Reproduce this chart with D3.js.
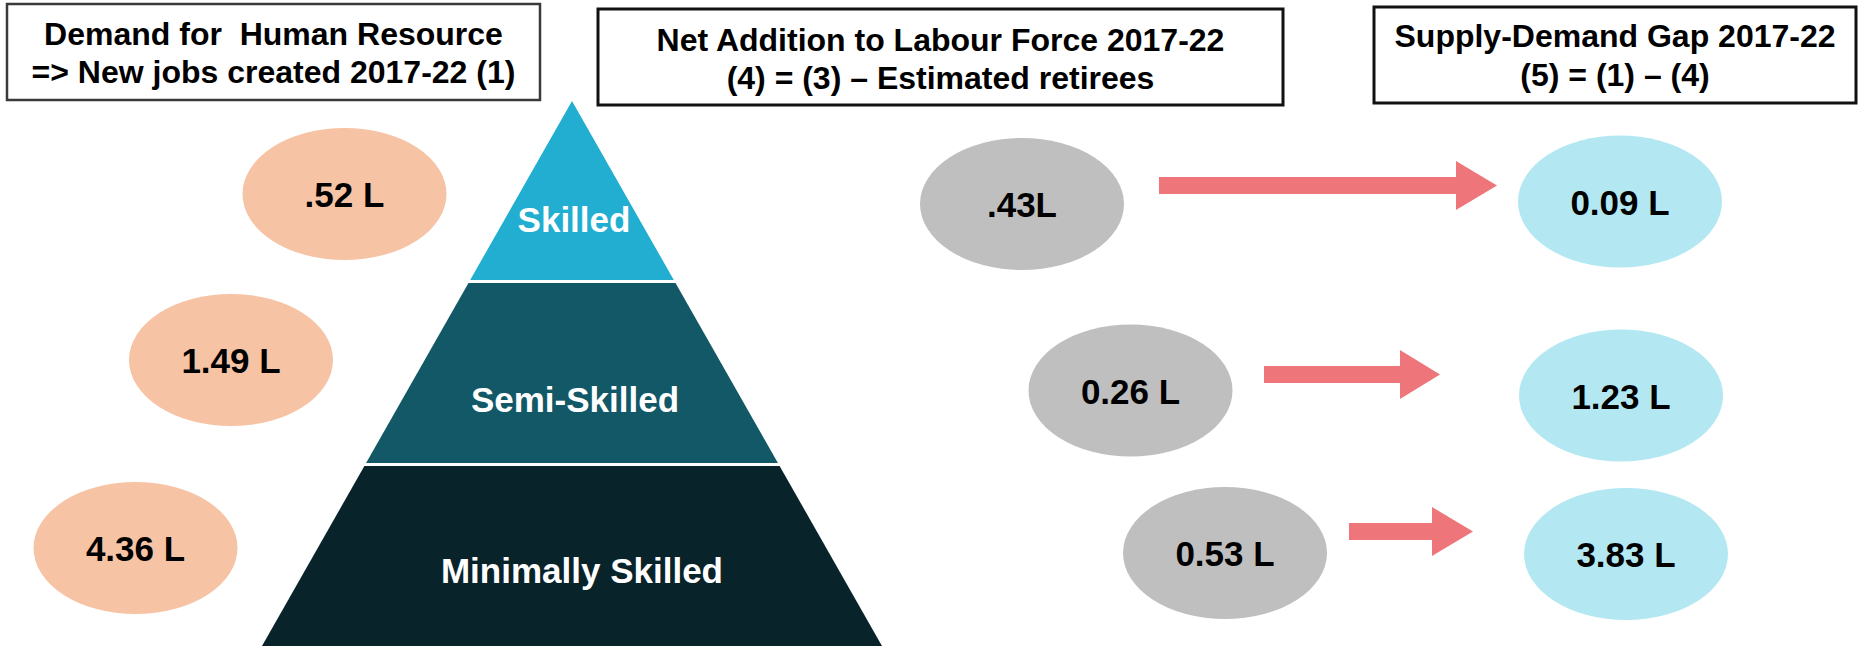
<!DOCTYPE html>
<html>
<head>
<meta charset="utf-8">
<script src="https://cdn.jsdelivr.net/npm/d3@7"></script>
<style>
  html, body { margin: 0; padding: 0; background: #ffffff; }
  svg { display: block; }
  text { font-family: "Liberation Sans", Arial, Helvetica, sans-serif; font-weight: bold; }
</style>
</head>
<body>
<svg id="chart" width="1858" height="647"></svg>
<script>
// Skill levels, top of the pyramid first
const levels = ["Skilled", "Semi-Skilled", "Minimally Skilled"];

// New jobs created 2017-22 (lakh)
const demandValues = [0.52, 1.49, 4.36];
const demandLabels = [".52 L", "1.49 L", "4.36 L"];

// Net addition to labour force 2017-22 (lakh)
const netAdditionValues = [0.43, 0.26, 0.53];
const netAdditionLabels = [".43L", "0.26 L", "0.53 L"];

// Supply-demand gap 2017-22 (lakh)
const gapValues = [0.09, 1.23, 3.83];
const gapLabels = ["0.09 L", "1.23 L", "3.83 L"];

// Header boxes
const demandHeader = ["Demand for  Human Resource", "=> New jobs created 2017-22 (1)"];
const netAdditionHeader = ["Net Addition to Labour Force 2017-22", "(4) = (3) \u2013 Estimated retirees"];
const gapHeader = ["Supply-Demand Gap 2017-22", "(5) = (1) \u2013 (4)"];

// ---- layout ----
const svg = d3.select("#chart");
svg.append("rect").attr("width", 1858).attr("height", 647).attr("fill", "#ffffff");

const headers = [
  { lines: demandHeader, x0: 7, x1: 540, y0: 4, y1: 100, base: [45, 83], stroke: "#3a3a3a", sw: 2.5 },
  { lines: netAdditionHeader, x0: 598, x1: 1283, y0: 9, y1: 105, base: [51, 89], stroke: "#111111", sw: 3 },
  { lines: gapHeader, x0: 1374, x1: 1856, y0: 7, y1: 103, base: [47, 86], stroke: "#111111", sw: 3 }
];

const hdr = svg.selectAll("g.header").data(headers).join("g").attr("class", "header");
hdr.append("rect")
  .attr("x", d => d.x0).attr("y", d => d.y0)
  .attr("width", d => d.x1 - d.x0).attr("height", d => d.y1 - d.y0)
  .attr("fill", "#ffffff").attr("stroke", d => d.stroke).attr("stroke-width", d => d.sw);
hdr.each(function (d) {
  d3.select(this).selectAll("text").data(d.lines).join("text")
    .attr("x", (d.x0 + d.x1) / 2)
    .attr("y", (t, i) => d.base[i])
    .attr("text-anchor", "middle")
    .attr("font-size", 32)
    .attr("fill", "#000000")
    .style("white-space", "pre")
    .text(t => t);
});

// ---- pyramid ----
const apex = { x: 572, y: 101 };
const baseY = 646;
const halfWidth = d3.scaleLinear().domain([apex.y, baseY]).range([0, 310]);
const bandEdges = [[101, 280], [283, 463], [466, 646]];
const bandColors = ["#21AED0", "#125866", "#09232A"];
const bandLabel = [{ dx: 2, y: 232 }, { dx: 3, y: 412 }, { dx: 10, y: 583 }];

const bands = levels.map((name, i) => ({ name, top: bandEdges[i][0], bottom: bandEdges[i][1], color: bandColors[i], lab: bandLabel[i] }));

const pyr = svg.append("g").attr("class", "pyramid");
pyr.selectAll("path").data(bands).join("path")
  .attr("d", d => {
    const tw = halfWidth(d.top), bw = halfWidth(d.bottom);
    return d3.line()([
      [apex.x - tw, d.top], [apex.x + tw, d.top],
      [apex.x + bw, d.bottom], [apex.x - bw, d.bottom]
    ]) + "Z";
  })
  .attr("fill", d => d.color);
pyr.selectAll("text").data(bands).join("text")
  .attr("x", d => apex.x + d.lab.dx)
  .attr("y", d => d.lab.y)
  .attr("text-anchor", "middle")
  .attr("font-size", 35)
  .attr("fill", "#ffffff")
  .text(d => d.name);

// ---- value bubbles ----
const rx = 102, ry = 66;
const columns = [
  { values: demandValues, labels: demandLabels, fill: "#F6C3A5",
    centers: [[344.5, 194], [231, 360], [135.5, 548]] },
  { values: netAdditionValues, labels: netAdditionLabels, fill: "#BFBFBF",
    centers: [[1022, 204], [1130.5, 390.5], [1225, 553]] },
  { values: gapValues, labels: gapLabels, fill: "#B3E8F3",
    centers: [[1620, 201.5], [1621, 395.5], [1626, 554]] }
];

columns.forEach(col => {
  const items = col.values.map((v, i) => ({ value: v, label: col.labels[i], cx: col.centers[i][0], cy: col.centers[i][1] }));
  const g = svg.append("g").attr("class", "bubbles");
  g.selectAll("ellipse").data(items).join("ellipse")
    .attr("cx", d => d.cx).attr("cy", d => d.cy)
    .attr("rx", rx).attr("ry", ry)
    .attr("fill", col.fill);
  g.selectAll("text").data(items).join("text")
    .attr("x", d => d.cx).attr("y", d => d.cy + 13)
    .attr("text-anchor", "middle")
    .attr("font-size", 35)
    .attr("fill", "#000000")
    .text(d => d.label);
});

// ---- arrows from net addition to gap ----
const arrows = [
  { x0: 1159, xh: 1456, tip: 1497, cy: 185.5 },
  { x0: 1264, xh: 1400, tip: 1440, cy: 374.5 },
  { x0: 1349, xh: 1432, tip: 1473, cy: 531.5 }
];
const shaftHalf = 8.5, headHalf = 24.5;
svg.append("g").attr("class", "arrows")
  .selectAll("path").data(arrows).join("path")
  .attr("d", a => d3.line()([
    [a.x0, a.cy - shaftHalf], [a.xh, a.cy - shaftHalf], [a.xh, a.cy - headHalf],
    [a.tip, a.cy], [a.xh, a.cy + headHalf], [a.xh, a.cy + shaftHalf], [a.x0, a.cy + shaftHalf]
  ]) + "Z")
  .attr("fill", "#EE767A");
</script>
</body>
</html>
